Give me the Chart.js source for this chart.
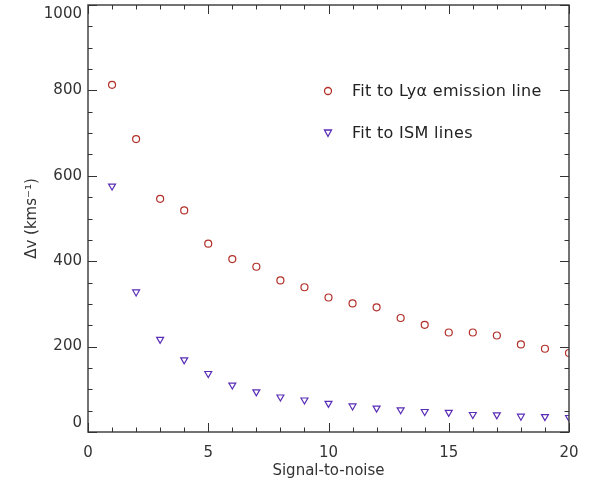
<!DOCTYPE html>
<html>
<head>
<meta charset="utf-8">
<script src="https://cdn.jsdelivr.net/npm/chart.js@4/dist/chart.umd.min.js"></script>
<style>
  html, body { margin: 0; padding: 0; background: #fff; }
  #wrap { position: relative; width: 592px; height: 485px; }
  #c { position: absolute; left: 0; top: 0; }
  .leg { position: absolute; left: 320px; font-family: "DejaVu Sans", sans-serif; font-size: 16px; letter-spacing: 0.3px; color: #222; line-height: 20px; white-space: nowrap; }
  .leg svg { position: absolute; left: 0; top: 4px; }
  .leg span { position: absolute; left: 32px; top: 0; }
</style>
</head>
<body>
<div id="wrap">
  <canvas id="c" width="592" height="485"></canvas>
  <div class="leg" style="top:81px;">
    <svg width="16" height="12"><circle cx="8" cy="6" r="3.5" fill="none" stroke="#b2302a" stroke-width="1.3"/></svg>
    <span>Fit to Lyα emission line</span>
  </div>
  <div class="leg" style="top:123px;">
    <svg width="16" height="12"><polygon points="4.5,3 11.5,3 8,9.5" fill="none" stroke="#5a2db5" stroke-width="1.3"/></svg>
    <span>Fit to ISM lines</span>
  </div>
</div>
<script>
const snr = [1,2,3,4,5,6,7,8,9,10,11,12,13,14,15,16,17,18,19,20];
const lyaShift = [813,686,546,519,441,405,387,355,339,315,301,292,267,251,233,233,226,205,195,185];
const ismShift = [576,328,217,169,137,110,94,82,75,67,61,56,52,48,46,41,40,37,36,34];
const lyaLabel = "Fit to Lyα emission line";
const ismLabel = "Fit to ISM lines";
const xTitle = "Signal-to-noise";
const yTitle = "Δv (kms⁻¹)";

const frameTicks = {
  id: 'frameTicks',
  afterDatasetsDraw(chart) {
    const ctx = chart.ctx, a = chart.chartArea, xs = chart.scales.x, ys = chart.scales.y;
    ctx.save();
    ctx.strokeStyle = '#444';
    ctx.lineWidth = 1.5;
    ctx.strokeRect(a.left, a.top, a.right - a.left, a.bottom - a.top);
    ctx.lineWidth = 1;
    ctx.strokeStyle = '#333';
    ctx.beginPath();
    for (let v = 0; v <= 20; v += 1) {
      const px = Math.round(xs.getPixelForValue(v)) + 0.5;
      const len = (v % 5 === 0) ? 9 : 4.5;
      ctx.moveTo(px, a.bottom); ctx.lineTo(px, a.bottom - len);
      ctx.moveTo(px, a.top); ctx.lineTo(px, a.top + len);
    }
    for (let v = 0; v <= 1000; v += 50) {
      const py = Math.round(ys.getPixelForValue(v)) + 0.5;
      const len = (v % 200 === 0) ? 9 : 4.5;
      ctx.moveTo(a.left, py); ctx.lineTo(a.left + len, py);
      ctx.moveTo(a.right, py); ctx.lineTo(a.right - len, py);
    }
    ctx.stroke();
    ctx.restore();
  }
};

new Chart(document.getElementById('c'), {
  type: 'scatter',
  data: {
    datasets: [
      { label: lyaLabel, data: snr.map((x, i) => ({x, y: lyaShift[i]})),
        pointStyle: 'circle', pointRadius: 3.5, pointBorderWidth: 1.2,
        borderColor: '#b2302a', backgroundColor: 'rgba(0,0,0,0)', clip: 0 },
      { label: ismLabel, data: snr.map((x, i) => ({x, y: ismShift[i]})),
        pointStyle: 'triangle', pointRotation: 180, pointRadius: 4, pointBorderWidth: 1.2,
        borderColor: '#5a2db5', backgroundColor: 'rgba(0,0,0,0)', clip: 0 }
    ]
  },
  options: {
    responsive: false,
    animation: false,
    events: [],
    layout: { autoPadding: false, padding: { left: 0, top: 5, right: 23, bottom: 0 } },
    plugins: { legend: { display: false }, tooltip: { enabled: false } },
    scales: {
      x: {
        type: 'linear', min: 0, max: 20,
        grid: { display: false, drawTicks: false },
        border: { display: false },
        ticks: { stepSize: 5, padding: 12, color: '#333', font: { family: 'DejaVu Sans', size: 15 }, maxRotation: 0 },
        title: { display: true, text: xTitle, color: '#333', padding: { top: 0, bottom: 5 }, font: { family: 'DejaVu Sans', size: 15 } },
        afterFit(s) { s.height = 53; s.paddingLeft = 0; s.paddingRight = 0; }
      },
      y: {
        type: 'linear', min: 0, max: 1000,
        grid: { display: false, drawTicks: false },
        border: { display: false },
        ticks: {
          stepSize: 200, padding: 6, color: '#333', font: { family: 'DejaVu Sans', size: 15 },
          callback(v) {
            const s = String(v);
            if (v === 1000) return ['', s];
            if (v === 0) return [s, ''];
            return s;
          }
        },
        title: { display: true, text: yTitle, color: '#333', padding: { top: 23, bottom: 0 }, font: { family: 'DejaVu Sans', size: 15 } },
        afterFit(s) { s.width = 88; s.paddingTop = 0; s.paddingBottom = 0; }
      }
    }
  },
  plugins: [frameTicks]
});
</script>
</body>
</html>
